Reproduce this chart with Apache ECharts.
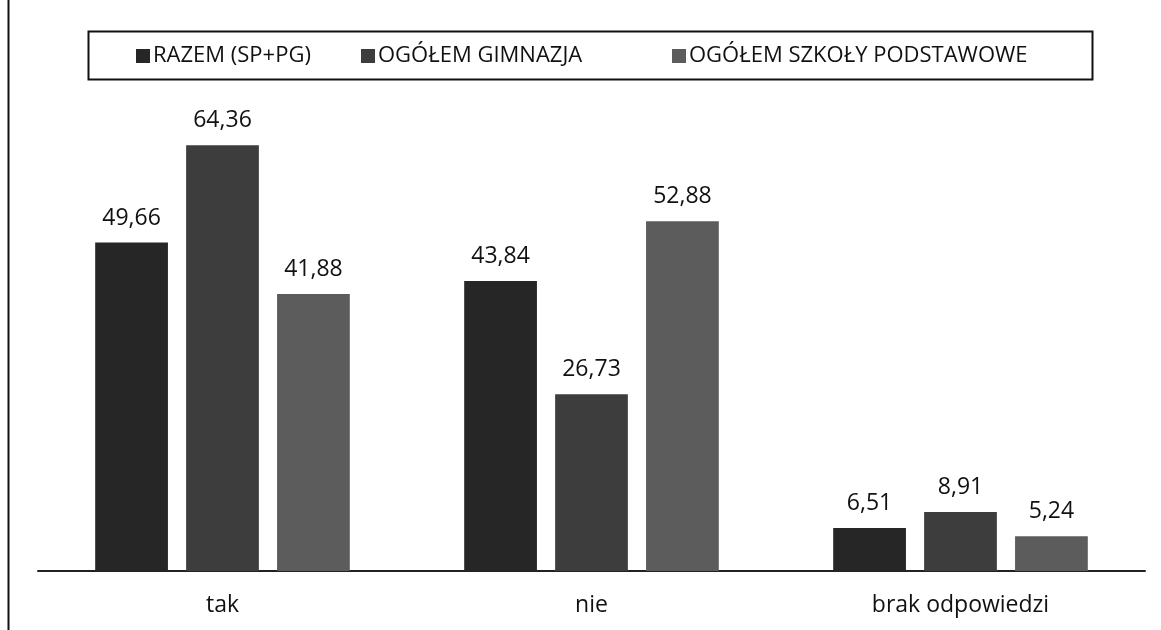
<!DOCTYPE html>
<html><head><meta charset="utf-8">
<script src="https://cdn.jsdelivr.net/npm/echarts@6/dist/echarts.min.js"></script>
<style>html,body{margin:0;padding:0;background:#fff}#c{width:1161px;height:630px}</style>
</head><body><div id="c"></div>
<script>
const categories = ['tak', 'nie', 'brak odpowiedzi'];
const seriesNames = ['RAZEM (SP+PG)', 'OGÓŁEM GIMNAZJA', 'OGÓŁEM SZKOŁY PODSTAWOWE'];
const razem = [49.66, 43.84, 6.51];
const gimnazja = [64.36, 26.73, 8.91];
const podstawowe = [41.88, 52.88, 5.24];
const colors = ['#262626', '#3d3d3d', '#5c5c5c'];
const FONT = 'Open Sans';

const chart = echarts.init(document.getElementById('c'), null, {renderer: 'canvas'});
const fmt = p => p.value.toFixed(2).replace('.', ',');
const mk = (name, data, color) => ({
  name, type: 'bar', data, barGap: '25%', barCategoryGap: '31%',
  itemStyle: {color},
  label: {show: true, position: 'top', distance: 13, formatter: fmt,
    fontFamily: FONT, fontSize: 23, color: '#111'}
});
const legendLefts = [136, 361, 672];
const legends = seriesNames.map((n, i) => ({
  top: 45, left: legendLefts[i], padding: 0, itemWidth: 14, itemHeight: 14,
  icon: 'rect',
  textStyle: {fontFamily: FONT, fontSize: 22, color: '#111', padding: [0, 0, 0, -2]},
  data: [n]
}));
chart.setOption({
  animation: false,
  backgroundColor: '#fff',
  legend: legends,
  graphic: [
    {type: 'rect', shape: {x: 88.5, y: 31.5, width: 1004, height: 48}, style: {fill: 'none', stroke: '#111', lineWidth: 2}},
    {type: 'line', shape: {x1: 8.5, y1: 0, x2: 8.5, y2: 630}, style: {stroke: '#111', lineWidth: 2}}
  ],
  grid: {left: 38, right: 16, top: 108, bottom: 59},
  xAxis: {
    type: 'category', data: categories,
    axisLine: {lineStyle: {color: '#222', width: 2}},
    axisTick: {show: false},
    axisLabel: {fontFamily: FONT, fontSize: 23, color: '#111', margin: 23}
  },
  yAxis: {type: 'value', min: 0, max: 70, show: false, splitLine: {show: false}},
  series: [mk(seriesNames[0], razem, colors[0]), mk(seriesNames[1], gimnazja, colors[1]), mk(seriesNames[2], podstawowe, colors[2])]
});
</script></body></html>
